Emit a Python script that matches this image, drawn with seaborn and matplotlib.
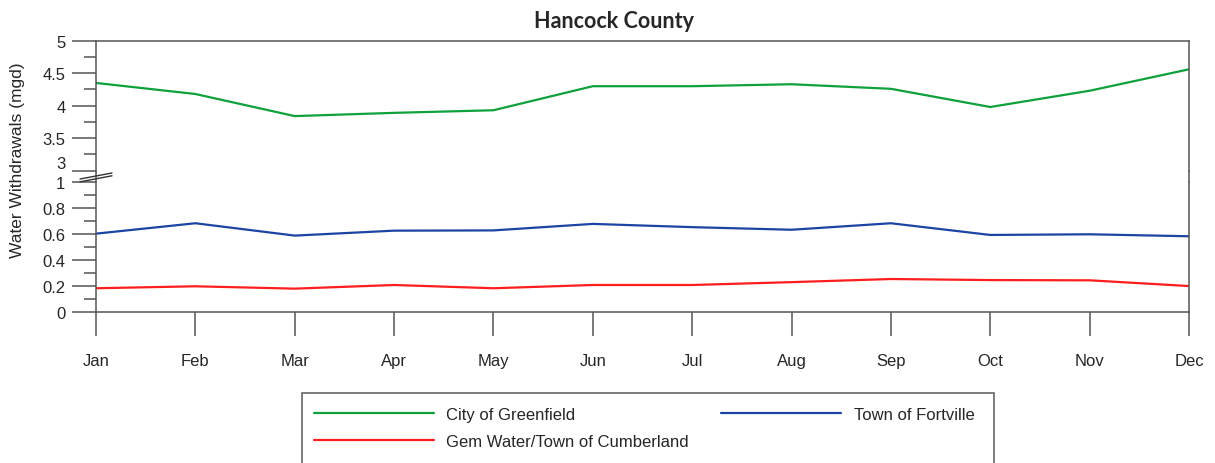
import seaborn as sns
import pandas as pd
import matplotlib.pyplot as plt
from matplotlib.lines import Line2D
from matplotlib.patches import Rectangle
from matplotlib.ticker import MultipleLocator, FormatStrFormatter

months = ['Jan', 'Feb', 'Mar', 'Apr', 'May', 'Jun', 'Jul', 'Aug', 'Sep', 'Oct', 'Nov', 'Dec']

greenfield = [4.35, 4.18, 3.84, 3.89, 3.93, 4.30, 4.30, 4.33, 4.26, 3.98, 4.23, 4.56]
fortville = [0.605, 0.685, 0.59, 0.628, 0.63, 0.68, 0.655, 0.635, 0.685, 0.595, 0.60, 0.585]
cumberland = [0.185, 0.20, 0.182, 0.21, 0.185, 0.21, 0.21, 0.232, 0.256, 0.248, 0.246, 0.202]

names = ['City of Greenfield', 'Gem Water/Town of Cumberland', 'Town of Fortville']
colors = {'City of Greenfield': '#0ea13c',
          'Gem Water/Town of Cumberland': '#ff1e1e',
          'Town of Fortville': '#1c45a3'}

df = pd.DataFrame({
    'Month': months * 3,
    'mgd': greenfield + cumberland + fortville,
    'System': [names[0]] * 12 + [names[1]] * 12 + [names[2]] * 12,
})

sns.set_style('white')
plt.rcParams['font.family'] = ['Liberation Sans', 'DejaVu Sans']

W, H = 1215, 464
fig = plt.figure(figsize=(W / 100, H / 100), dpi=100)

left, right = 96, 1189
ax_top = fig.add_axes([left / W, (H - 171.7) / H, (right - left) / W, 130 / H])
ax_bot = fig.add_axes([left / W, (H - 313.3) / H, (right - left) / W, 130 / H])

edge = '#555555'
for ax in (ax_top, ax_bot):
    sns.lineplot(data=df, x='Month', y='mgd', hue='System', hue_order=names,
                 palette=colors, linewidth=1.6, ax=ax, legend=(ax is ax_top))
    ax.set_xlim(0, 11)
    ax.set_xlabel('')
    ax.set_ylabel('')
    for s in ax.spines.values():
        s.set_color(edge)
        s.set_linewidth(1.1)
    ax.tick_params(axis='y', which='major', direction='out', length=17, width=1.1,
                   color=edge, pad=5, labelsize=12, left=True)
    ax.tick_params(axis='y', which='minor', direction='out', length=9, width=1.1,
                   color=edge, left=True)
    ax.yaxis.set_major_formatter(FormatStrFormatter('%g'))

handles, labels = ax_top.get_legend_handles_labels()
ax_top.get_legend().remove()

ax_top.set_ylim(3, 5)
ax_top.set_yticks([3, 3.5, 4, 4.5, 5])
ax_top.yaxis.set_minor_locator(MultipleLocator(0.25))
ax_top.spines['bottom'].set_visible(False)
ax_top.tick_params(axis='x', bottom=False, labelbottom=False)

ax_bot.set_ylim(0, 1)
ax_bot.yaxis.set_major_locator(MultipleLocator(0.2))
ax_bot.yaxis.set_minor_locator(MultipleLocator(0.1))
ax_bot.spines['top'].set_visible(False)
ax_bot.tick_params(axis='x', bottom=True, direction='out', length=17, width=1.1,
                   color=edge, pad=12, labelsize=12)

# join the spines across the break
for xp in (left, right):
    fig.add_artist(Line2D([xp / W, xp / W], [(H - 171.7) / H, (H - 183.3) / H],
                          transform=fig.transFigure, color=edge, lw=1.1))
# break marks
for dy in (0, 2.8):
    fig.add_artist(Line2D([80 / W, 112 / W], [(H - 180 - dy) / H, (H - 174 - dy) / H],
                          transform=fig.transFigure, color='#333333', lw=1.0))

fig.text(614 / W, 1 - 21 / H, 'Hancock County', ha='center', va='center',
         fontsize=15.5, fontweight='bold', family=['Lato', 'DejaVu Sans'])
fig.text(18 / W, 1 - 160 / H, 'Water Withdrawals (mgd)', rotation=90,
         ha='center', va='center', fontsize=12.5)

# legend box
fig.add_artist(Rectangle((302 / W, (H - 475) / H), (994 - 302) / W, (475 - 394) / H,
                         transform=fig.transFigure, fill=False, edgecolor='#666666', lw=1.2))
lab = dict(zip(labels, handles))
kw = dict(frameon=False, fontsize=12, handlelength=7.2, handletextpad=0.75,
          borderpad=0, borderaxespad=0, labelspacing=0.7, loc='upper left')
fig.legend([lab[names[0]], lab[names[1]]], names[:2],
           bbox_to_anchor=(314 / W, 1 - 408 / H), **kw)
fig.legend([lab[names[2]]], names[2:],
           bbox_to_anchor=(721 / W, 1 - 408 / H), **kw)

# the "3" label sits just above the break, as in the source chart
fig.canvas.draw()
ax_top.get_yticklabels()[0].set_va('bottom')

fig.savefig('out.png', dpi=100)
